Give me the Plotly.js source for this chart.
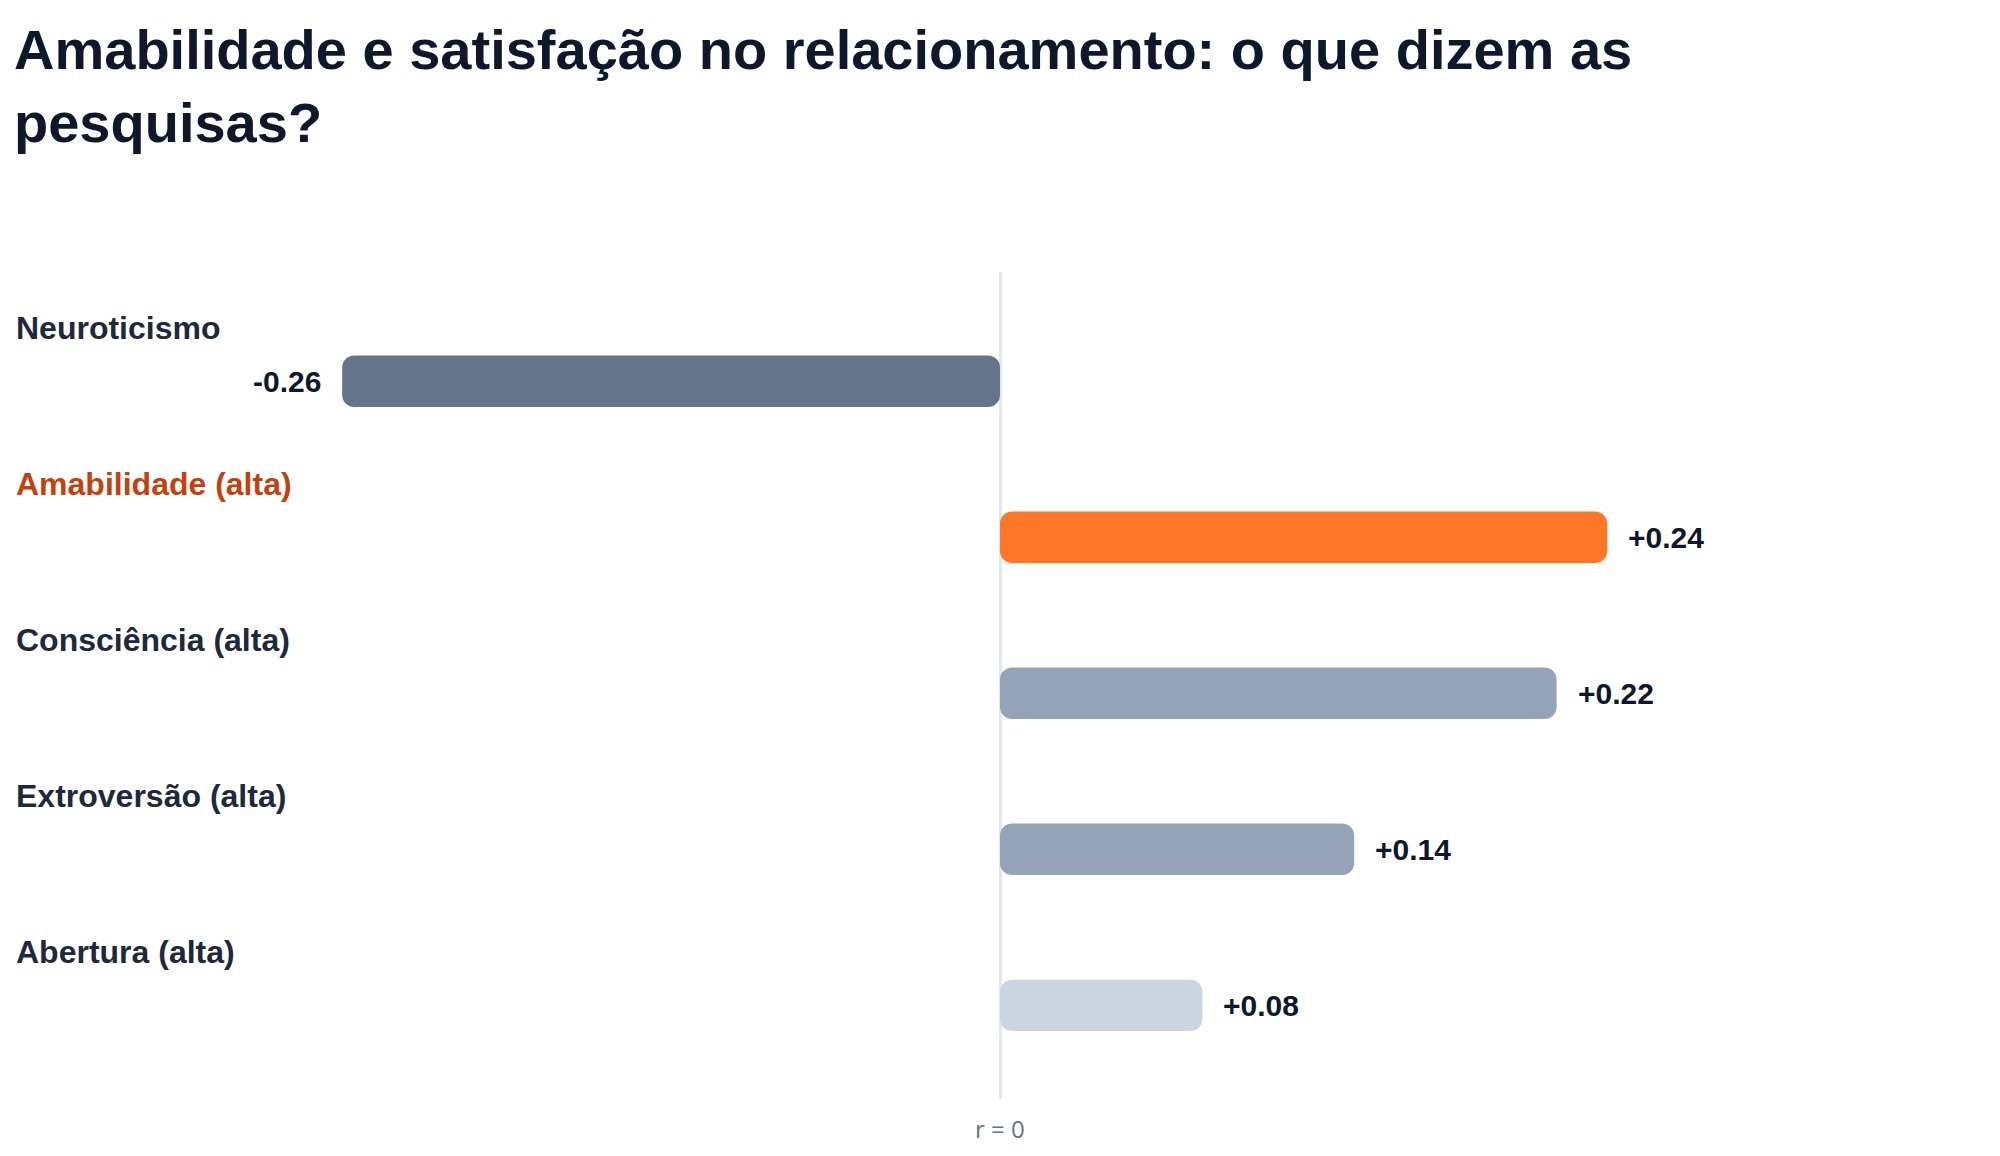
<!DOCTYPE html>
<html>
<head>
<meta charset="utf-8">
<script src="https://cdn.plot.ly/plotly-3.0.1.min.js"></script>
<style>html,body{margin:0;padding:0;background:#fff;}#chart{width:2000px;height:1156px;}</style>
</head>
<body>
<div id="chart"></div>
<script>
// ---- data ----
const categories = ["Neuroticismo", "Amabilidade (alta)", "Consciência (alta)", "Extroversão (alta)", "Abertura (alta)"];
const correlations = [-0.26, 0.24, 0.22, 0.14, 0.08];
const valueLabels = ["-0.26", "+0.24", "+0.22", "+0.14", "+0.08"];
const barColors = ["#64748b", "#ff7629", "#94a3b8", "#94a3b8", "#cbd5e1"];
const labelColors = ["#1e293b", "#c2410c", "#1e293b", "#1e293b", "#1e293b"];
const titleText = "Amabilidade e satisfação no relacionamento: o que dizem as<br>pesquisas?";
const zeroLabel = "r = 0";

const FONT = "Liberation Sans, Arial, Helvetica, sans-serif";
const rows = categories.map((c, i) => i);

const bars = {
  type: "bar", orientation: "h",
  y: rows,
  x: correlations,
  base: 0,
  width: 0.33,
  marker: {color: barColors, cornerradius: 12, line: {width: 0}},
  hoverinfo: "skip", showlegend: false
};

const annotations = [];
categories.forEach((c, i) => {
  annotations.push({
    xref: "paper", yref: "y", x: 0, y: i - 0.34,
    xanchor: "left", yanchor: "middle", showarrow: false,
    text: c, font: {family: FONT, size: 32, weight: 700, color: labelColors[i]}
  });
  const v = correlations[i];
  annotations.push({
    xref: "x", yref: "y", x: v, y: i,
    xanchor: v < 0 ? "right" : "left", yanchor: "middle", showarrow: false,
    xshift: v < 0 ? -19 : 19,
    text: valueLabels[i], font: {family: FONT, size: 30, weight: 700, color: "#0f172a"}
  });
});
annotations.push({
  xref: "x", yref: "paper", x: 0, y: 0, xanchor: "center", yanchor: "top",
  yshift: -11, showarrow: false, text: zeroLabel,
  font: {family: "Open Sans, sans-serif", size: 24, color: "#64748b"}
});

const layout = {
  width: 2000, height: 1156,
  margin: {l: 14, r: 14, t: 272, b: 57, pad: 0},
  paper_bgcolor: "#ffffff", plot_bgcolor: "#ffffff",
  showlegend: false,
  title: {
    text: titleText,
    font: {family: FONT, size: 56, weight: 700, color: "#0f172a"},
    xref: "paper", x: 0, xanchor: "left",
    yref: "container", y: 0.94, yanchor: "top"
  },
  xaxis: {
    range: [-0.38972, 0.38972], fixedrange: true,
    showgrid: false, showticklabels: false, ticks: "",
    zeroline: true, zerolinecolor: "#e2e8f0", zerolinewidth: 3, showline: false
  },
  yaxis: {
    range: [4.6, -0.7], fixedrange: true,
    showgrid: false, showticklabels: false, ticks: "", zeroline: false, showline: false
  },
  annotations: annotations
};

Plotly.newPlot("chart", [bars], layout, {displayModeBar: false, staticPlot: true});
</script>
</body>
</html>
